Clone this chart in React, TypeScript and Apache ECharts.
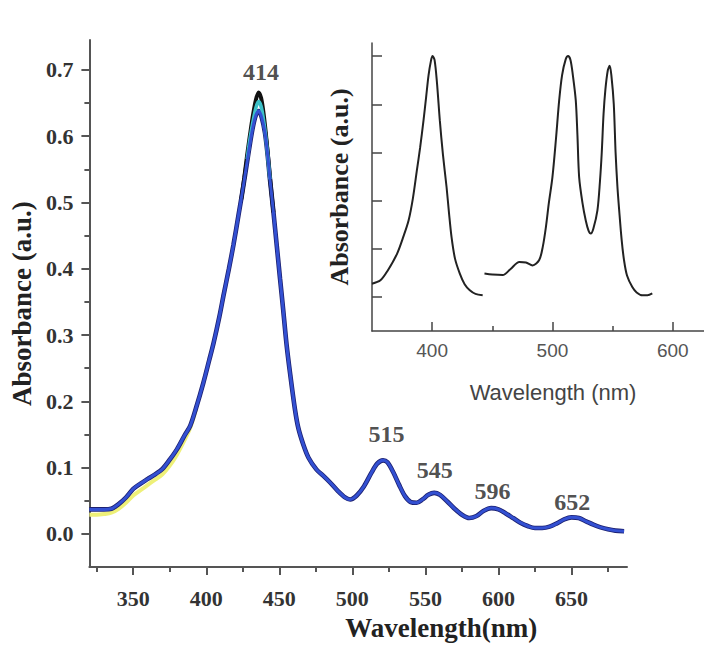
import { useEffect, useRef } from "react";
import * as echarts from "echarts";

// ---------- main spectrum (wavelength nm, absorbance a.u.) ----------
const mainWavelengths = [
  320, 325, 330, 335, 340, 345, 350, 355, 360, 365, 370, 375, 380, 385,
  389, 393, 398, 402, 405, 409, 412, 415.5, 418.6, 422,
  425.4, 428, 430, 432, 434, 436, 438, 440.2, 442, 443.6,
  446, 448.2, 450.5, 452.7, 455, 457.5, 460.7, 463, 466.4, 470,
  475.5, 480, 484.6, 490, 495, 498.5, 503, 508, 513, 517,
  521, 524, 528, 532, 536, 540, 544, 548, 552, 556,
  560, 565, 570, 575, 580, 585, 590, 595, 600, 605,
  610, 615, 620, 625, 630, 635, 640, 645, 650, 655,
  660, 665, 670, 675, 680, 686,
];
const blueAbs = [
  0.037, 0.037, 0.037, 0.038, 0.045, 0.055, 0.068, 0.076, 0.083, 0.09, 0.098, 0.112, 0.128, 0.148,
  0.163, 0.19, 0.228, 0.262, 0.288, 0.328, 0.362, 0.4, 0.436, 0.48,
  0.525, 0.562, 0.59, 0.615, 0.632, 0.638, 0.628, 0.605, 0.572, 0.535,
  0.485, 0.436, 0.385, 0.337, 0.285, 0.24, 0.188, 0.16, 0.135, 0.115,
  0.097, 0.088, 0.078, 0.065, 0.055, 0.052, 0.058, 0.072, 0.092, 0.106,
  0.111, 0.108, 0.093, 0.074, 0.057, 0.048, 0.047, 0.052, 0.059, 0.062,
  0.059, 0.049, 0.038, 0.029, 0.024, 0.027, 0.035, 0.039, 0.037, 0.031,
  0.024, 0.017, 0.012, 0.009, 0.009, 0.011, 0.016, 0.022, 0.025, 0.024,
  0.019, 0.014, 0.01, 0.007, 0.005, 0.004,
];
const blackPeakWavelengths = [424, 426, 428, 430, 432, 434, 435.8, 437.5, 439, 440.5, 442, 443.6, 446];
const blackPeakAbs = [0.505, 0.537, 0.572, 0.603, 0.632, 0.655, 0.666, 0.658, 0.638, 0.61, 0.576, 0.537, 0.485];
const cyanPeakWavelengths = [428, 430, 432, 434, 435.8, 437.5, 439, 440.5, 442, 443.6];
const cyanPeakAbs = [0.565, 0.597, 0.622, 0.643, 0.652, 0.645, 0.627, 0.603, 0.572, 0.535];
const yellowWavelengths = [320, 325, 330, 335, 340, 345, 350, 355, 360, 365, 370, 375, 380, 385, 389, 393];
const yellowAbs = [0.029, 0.029, 0.03, 0.032, 0.038, 0.047, 0.058, 0.066, 0.074, 0.082, 0.09, 0.103, 0.12, 0.141, 0.16, 0.188];

const mainPeakTexts = ["414", "515", "545", "596", "652"];
const mainPeakWavelengths = [437.5, 523.4, 556.4, 596, 650.6];
const mainPeakAbs = [0.696, 0.151, 0.097, 0.065, 0.048];

const mainXTicks = [350, 400, 450, 500, 550, 600, 650];
const mainXMinorTicks = [325, 375, 425, 475, 525, 575, 625, 675];
const mainYTicks = [0, 0.1, 0.2, 0.3, 0.4, 0.5, 0.6, 0.7];
const mainYMinorTicks = [0.05, 0.15, 0.25, 0.35, 0.45, 0.55, 0.65];

// ---------- inset spectrum (arbitrary units) ----------
const insetSoretWavelengths = [
  350, 357, 363, 370.8, 376, 380.4, 384, 387.3, 390, 392.8, 395, 397, 399, 400.3,
  402, 404, 406.4, 409, 412, 414, 416.1, 419, 423, 427, 431.3, 436, 442,
];
const insetSoretAbs = [
  0.28, 0.35, 0.55, 0.9, 1.25, 1.59, 2.05, 2.63, 3.1, 3.66, 4.15, 4.6, 4.9, 5.0,
  4.92, 4.45, 3.66, 2.95, 2.28, 1.75, 1.25, 0.8, 0.49, 0.27, 0.145, 0.07, 0.04,
];
const insetQWavelengths = [
  443.5, 450, 458.7, 465, 472.5, 478, 483.5, 489, 492, 494.6, 497, 500, 503, 505.6,
  508, 511, 513, 515, 517, 519.4, 520.8, 522.2, 525, 527.7, 530, 531.9, 534, 537.4,
  539.5, 541, 542.5, 544, 546, 547.6, 549, 551, 552.5, 554, 555.5, 557.5, 559.5, 562,
  566.4, 570, 574.7, 579, 583,
];
const insetQAbs = [
  0.49, 0.47, 0.46, 0.58, 0.73, 0.72, 0.66, 0.77, 1.05, 1.46, 1.95, 2.49, 3.3, 4.08,
  4.6, 4.93, 5.0, 4.92, 4.6, 4.08, 3.35, 2.49, 1.95, 1.59, 1.38, 1.32, 1.42, 1.8,
  2.4, 3.0, 3.8, 4.3, 4.7, 4.8, 4.6, 4.0, 3.0, 2.3, 1.8, 1.2, 0.77, 0.45,
  0.21, 0.1, 0.04, 0.04, 0.08,
];
const insetPeakTexts = ["417", "525", "557"];
const insetPeakWavelengths = [402.2, 503.2, 561.3];
const insetPeakAbs = [5.6, 5.6, 5.63];

const insetXTicks = [400, 500, 600];
const insetXMinorTicks = [450, 550];
const insetYTicks = [0, 1, 2, 3, 4, 5];

const zip = (xs: number[], ys: number[]) => xs.map((x, i) => [x, ys[i]]);
const labelData = (texts: string[], xs: number[], ys: number[]) =>
  texts.map((t, i) => ({ name: t, value: [xs[i], ys[i]] }));

const SERIF = "Liberation Serif, Times New Roman, serif";
const SANS = "Liberation Sans, Arial, sans-serif";

export default function App() {
  const ref = useRef<HTMLDivElement>(null);
  useEffect(() => {
    if (!ref.current) return;
    const chart = echarts.init(ref.current, undefined, { renderer: "svg" });
    const axisLineMain = { show: true, onZero: false, lineStyle: { color: "#555", width: 2 } };
    const axisLineInset = { show: true, onZero: false, lineStyle: { color: "#444", width: 1.5 } };
    const mainLabelStyle = { fontFamily: SERIF, fontWeight: "bold" as const, fontSize: 22, color: "#333" };
    const line = (data: number[][], color: string, width: number, z: number, xi = 0, yi = 0) => ({
      type: "line",
      xAxisIndex: xi,
      yAxisIndex: yi,
      data,
      smooth: 0.3,
      showSymbol: false,
      symbol: "none",
      z,
      lineStyle: { color, width },
    });
    const labels = (data: any[], xi: number, yi: number, size: number) => ({
      type: "scatter",
      xAxisIndex: xi,
      yAxisIndex: yi,
      data,
      symbolSize: 1,
      itemStyle: { color: "rgba(0,0,0,0)" },
      z: 10,
      label: {
        show: true,
        position: "inside",
        formatter: (p: any) => p.name,
        fontFamily: SERIF,
        fontWeight: "bold",
        fontSize: size,
        color: "#222",
      },
    });
    chart.setOption({
      animation: false,
      backgroundColor: "#fff",
      grid: [
        { left: 89, top: 40, width: 538, height: 534, containLabel: false },
        { left: 372, top: 43, width: 332, height: 288, containLabel: false },
      ],
      xAxis: [
        {
          type: "value", gridIndex: 0, position: "bottom", min: 320, max: 688,
          axisLine: axisLineMain,
          axisTick: { show: true, inside: false, length: 8, customValues: mainXTicks, lineStyle: { color: "#555", width: 2 } },
          axisLabel: { show: true, margin: 20, customValues: mainXTicks, ...mainLabelStyle },
          splitLine: { show: false },
          name: "Wavelength(nm)", nameLocation: "middle", nameGap: 43,
          nameTextStyle: { fontFamily: SERIF, fontWeight: "bold", fontSize: 27, color: "#222", padding: [0, 0, 0, 166] },
        },
        {
          type: "value", gridIndex: 0, position: "bottom", offset: 0, min: 320, max: 688,
          axisLine: { show: false, onZero: false },
          axisTick: { show: true, inside: false, length: 5, customValues: mainXMinorTicks, lineStyle: { color: "#555", width: 2 } },
          axisLabel: { show: false },
          splitLine: { show: false },
        },
        {
          type: "value", gridIndex: 1, position: "bottom", min: 350, max: 626,
          axisLine: axisLineInset,
          axisTick: { show: true, inside: true, length: 9, customValues: insetXTicks, lineStyle: { color: "#444", width: 1.5 } },
          axisLabel: { show: true, margin: 10, customValues: insetXTicks, fontFamily: SANS, fontSize: 19, color: "#555" },
          splitLine: { show: false },
          name: "Wavelength (nm)", nameLocation: "middle", nameGap: 50,
          nameTextStyle: { fontFamily: SANS, fontSize: 22, color: "#444", padding: [0, 0, 0, 30] },
        },
        {
          type: "value", gridIndex: 1, position: "bottom", offset: 0, min: 350, max: 626,
          axisLine: { show: false, onZero: false },
          axisTick: { show: true, inside: true, length: 5, customValues: insetXMinorTicks, lineStyle: { color: "#444", width: 1.5 } },
          axisLabel: { show: false },
          splitLine: { show: false },
        },
      ],
      yAxis: [
        {
          type: "value", gridIndex: 0, position: "left", min: -0.05, max: 0.745,
          axisLine: axisLineMain,
          axisTick: { show: true, inside: false, length: 8, customValues: mainYTicks, lineStyle: { color: "#555", width: 2 } },
          axisLabel: { show: true, margin: 16, customValues: mainYTicks, formatter: (v: number) => v.toFixed(1), ...mainLabelStyle },
          splitLine: { show: false },
          name: "Absorbance (a.u.)", nameLocation: "middle", nameGap: 50,
          nameTextStyle: { fontFamily: SERIF, fontWeight: "bold", fontSize: 27, color: "#222" },
        },
        {
          type: "value", gridIndex: 0, position: "left", offset: 0, min: -0.05, max: 0.745,
          axisLine: { show: false, onZero: false },
          axisTick: { show: true, inside: false, length: 5, customValues: mainYMinorTicks, lineStyle: { color: "#555", width: 2 } },
          axisLabel: { show: false },
          splitLine: { show: false },
        },
        {
          type: "value", gridIndex: 1, position: "left", min: -0.7, max: 5.27,
          axisLine: axisLineInset,
          axisTick: { show: true, inside: true, length: 10, customValues: insetYTicks, lineStyle: { color: "#444", width: 1.5 } },
          axisLabel: { show: false },
          splitLine: { show: false },
          name: "Absorbance (a.u.)", nameLocation: "middle", nameGap: 20,
          nameTextStyle: { fontFamily: SERIF, fontWeight: "bold", fontSize: 26, color: "#222" },
        },
      ],
      series: [
        line(zip(yellowWavelengths, yellowAbs), "#eef078", 4, 1),
        line(zip(mainWavelengths, blueAbs), "#1c2070", 4.6, 2),
        line(zip(blackPeakWavelengths, blackPeakAbs), "#111", 4, 3),
        line(zip(cyanPeakWavelengths, cyanPeakAbs), "#3cc0c8", 3.6, 4),
        line(zip(mainWavelengths, blueAbs), "#3350d2", 3, 5),
        labels(labelData(mainPeakTexts, mainPeakWavelengths, mainPeakAbs), 0, 0, 24),
        line(zip(insetSoretWavelengths, insetSoretAbs), "#222", 2, 5, 2, 2),
        line(zip(insetQWavelengths, insetQAbs), "#222", 2, 5, 2, 2),
        labels(labelData(insetPeakTexts, insetPeakWavelengths, insetPeakAbs), 2, 2, 24),
      ],
    });
    return () => chart.dispose();
  }, []);
  return <div ref={ref} style={{ position: "fixed", left: 0, top: 0, width: 704, height: 646 }} />;
}
